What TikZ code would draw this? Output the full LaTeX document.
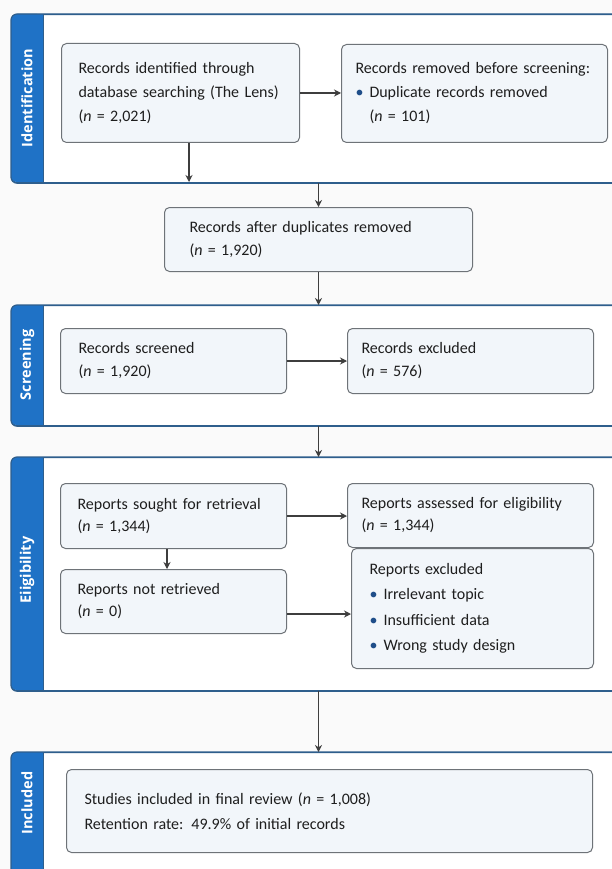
\documentclass[tikz,border=0pt]{standalone}
\usepackage{fontspec}
\setmainfont{Carlito}
\newfontfamily\labelfont{Open Sans}
\usetikzlibrary{arrows.meta}
\definecolor{sidebar}{HTML}{1F72C6}
\definecolor{panelline}{HTML}{2E5E8C}
\definecolor{boxfill}{HTML}{F2F6FA}
\definecolor{boxline}{HTML}{6E7378}
\definecolor{arrowc}{HTML}{3E3E3E}
\definecolor{bulletc}{HTML}{1F4E89}
\definecolor{bgc}{HTML}{FAFAFA}
\definecolor{textc}{HTML}{1E1E1E}
\newcommand{\bul}{\makebox[14pt][l]{\textcolor{bulletc}{\textbullet}}}
\newcommand{\nn}{\textit{n}}
\begin{document}
\begin{tikzpicture}[x=1pt,y=-1pt,
 box/.style n args={3}{draw=boxline, fill=boxfill, line width=1pt, rounded corners=5pt,
   anchor=north west, align=left, inner ysep=0pt, inner xsep=#3pt,
   minimum width=#1pt, minimum height=#2pt, text width=#1pt-2*#3pt,
   font=\fontsize{16}{24}\selectfont, text=textc},
 panel/.style={draw=panelline, fill=white, line width=1.2pt, rounded corners=6pt,
   anchor=north west, inner sep=0pt, minimum width=640pt},
 conn/.style={draw=arrowc, line width=1.1pt, -{Stealth[length=7pt,width=7pt]}},
 sidelabel/.style={rotate=90, text=white, inner sep=0pt, font=\labelfont\bfseries\fontsize{14.5}{14.5}\selectfont},
]
\path[use as bounding box, fill=bgc] (0,0) rectangle (612,869);
\clip (0,0) rectangle (612,869);

% panels
\node[panel, minimum height=168pt] (pid) at (11,14) {};
\node[panel, minimum height=120pt] (pscr) at (11,305) {};
\node[panel, minimum height=233pt] (pelig) at (11,457) {};
\node[panel, minimum height=150pt] (pincl) at (11,752) {};

\foreach \t/\b in {14/182, 305/425, 457/690, 752/902}{
  \fill[sidebar, rounded corners=6pt] (11,\t) rectangle (43,\b);
  \fill[sidebar] (30,\t) rectangle (43,\b);
  \draw[panelline, line width=0.8pt] (43,\t) -- (43,\b);
}
\foreach \n in {pid,pscr,pelig,pincl}{
  \draw[panelline, line width=1.2pt, rounded corners=6pt] (\n.north west) rectangle (\n.south east);
}

\node[sidelabel] (lid) at (27,98) {Identification};
\node[sidelabel] (lscr) at (27,365) {Screening};
\node[sidelabel] (lelig) at (27,570) {Eiigibility};
\node[sidelabel] (lincl) at (27,803) {Included};

% boxes
\node[box={238}{99}{17}] (ident) at (61,43) {Records identified through\\database searching (The Lens)\\(\nn{} = 2,021)};
\node[box={266}{98}{14}] (rem) at (341,44) {Records removed before screening:\\\bul Duplicate records removed\\\hspace*{14pt}(\nn{} = 101)};
\node[box={308}{64}{25}, font=\fontsize{16}{23}\selectfont] (dup) at (164,207) {Records after duplicates removed\\(\nn{} = 1,920)};
\node[box={226}{65}{18}, font=\fontsize{16}{23}\selectfont] (screened) at (60,328) {Records screened\\(\nn{} = 1,920)};
\node[box={246}{65}{14}, font=\fontsize{16}{23}\selectfont] (excl) at (347,328) {Records excluded\\(\nn{} = 576)};
\node[box={242}{120}{18}, font=\fontsize{16}{25.5}\selectfont] (repexcl) at (351,548) {Reports excluded\\\bul Irrelevant topic\\\bul Insufficient data\\\bul Wrong study design};
\node[box={226}{65}{17}, font=\fontsize{16}{22}\selectfont] (sought) at (60,483) {Reports sought for retrieval\\(\nn{} = 1,344)};
\node[box={246}{64}{14}, font=\fontsize{16}{22}\selectfont] (assessed) at (347,483) {Reports assessed for eligibility\\(\nn{} = 1,344)};
\node[box={226}{64}{17}, font=\fontsize{16}{22}\selectfont] (notret) at (60,569) {Reports not retrieved\\(\nn{} = 0)};
\node[box={526}{83}{18}, font=\fontsize{16}{25}\selectfont] (incl) at (66,769) {Studies included in final review (\nn{} = 1,008)\\Retention rate: 49.9\% of initial records};

% connectors
\coordinate (a1) at (189,182);
\draw[conn] (ident.south -| a1) -- (a1);
\draw[conn] (ident.east) -- (ident.east -| rem.west);
\draw[conn] (pid.south -| dup.north) -- (dup.north);
\draw[conn] (dup.south) -- (dup.south |- pscr.north);
\draw[conn] (screened.east) -- (screened.east -| excl.west);
\draw[conn] (pscr.south -| dup.south) -- (pelig.north -| dup.south);
\draw[conn] (sought.east) -- (sought.east -| assessed.west);
\coordinate (sx) at (167,0);
\draw[conn] (sought.south -| sx) -- (notret.north -| sx);
\coordinate (ny) at (0,614);
\draw[conn] (notret.east |- ny) -- (repexcl.west |- ny);
\draw[conn] (pelig.south -| dup.south) -- (pincl.north -| dup.south);
\end{tikzpicture}
\end{document}
